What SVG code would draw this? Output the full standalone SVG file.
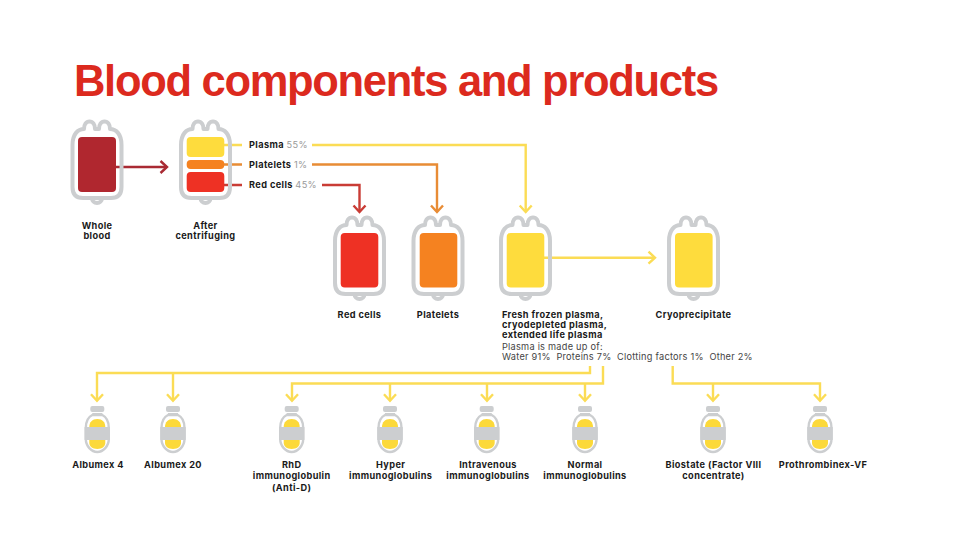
<svg xmlns="http://www.w3.org/2000/svg" xmlns:xlink="http://www.w3.org/1999/xlink" width="960" height="540" viewBox="0 0 960 540">
<style>
.title{font:700 43.5px "Liberation Sans",Arial,sans-serif;fill:#dc2a1e;letter-spacing:-1.3px}
.l{font:700 9.2px Inter,"Open Sans",sans-serif;fill:#1a1a1a;text-anchor:middle;letter-spacing:.38px}
.s{text-anchor:start}
.t{font:400 9.2px Inter,"Open Sans",sans-serif;fill:#444;letter-spacing:.25px}
.g{font:400 9.2px Inter,"Open Sans",sans-serif;fill:#999}
.out{fill:none;stroke:#ccced0;stroke-width:4;stroke-linejoin:round}
.c{fill:none;stroke-width:2.4;stroke-linejoin:miter}
.y{stroke:#fbdc55}.o{stroke:#e88c35}.r{stroke:#c93c35}.d{stroke:#a92a33}
</style>
<defs>
<g id="bag">
<path class="out" d="M-24.500,8C-24.500,-3 -19,-8 -13,-8C-13,-12 -11,-15.500 -7.500,-15.500C-4,-15.500 -2,-12 -2,-8L2,-8C2,-12 4,-15.500 7.500,-15.500C11,-15.500 13,-12 13,-8C19,-8 24.500,-3 24.500,8V50Q24.500,61 14,61H-14Q-24.500,61 -24.500,50Z"/>
<path class="out" d="M-5,61a5,5 0 0 0 10,0"/>
</g>
<g id="vial">
<rect x="-7" y="0" width="14" height="6" rx="2" fill="#ccced0"/>
<rect x="-5" y="7" width="10" height="2" fill="#ccced0"/>
<path d="M-5,9C-9,11 -11.500,15 -11.500,22V33C-11.500,40 -6,46 0,46C6,46 11.500,40 11.500,33V22C11.500,15 9,11 5,9Z" fill="#fff" stroke="#ccced0" stroke-width="2.400"/>
<path d="M-8,21C-8,16 -5,13 0,13C5,13 8,16 8,21V37C8,40 5,43 0,43C-5,43 -8,40 -8,37Z" fill="#fcd93a"/>
<rect x="-12.700" y="21" width="25.400" height="13" fill="#ccced0"/>
</g>
<path id="ad" class="c" d="M-6,-6.500L0,0L6,-6.500"/>
<path id="ar" class="c" d="M-6,-6.500L0,0L6,-6.500" transform="rotate(-90)"/>
</defs>

<text class="title" x="74" y="96">Blood components and products</text>

<g id="connectors">
<path class="c d" d="M116,167H167"/><use href="#ar" class="d" transform="translate(167,167)"/>
<path class="c y" d="M224,145H242M312,145H525.700V212"/><use href="#ad" class="y" transform="translate(525.700,212)"/>
<path class="c o" d="M224,164.500H242M312,164.500H437V212"/><use href="#ad" class="o" transform="translate(437,212)"/>
<path class="c r" d="M224,185H242M322,185H359.500V212"/><use href="#ad" class="r" transform="translate(359.500,212)"/>
<path class="c y" d="M544,257.700H655"/><use href="#ar" class="y" transform="translate(655,257.700)"/>
<path class="c y" d="M590,366V373H97V400"/>
<path class="c y" d="M173,373V400"/>
<path class="c y" d="M603,366V383.500H292V400"/>
<path class="c y" d="M390,383.500V400M487,383.500V400M585,383.500V400"/>
<path class="c y" d="M672.700,366V383.500H820V400"/>
<path class="c y" d="M713,383.500V400"/>
<use href="#ad" class="y" transform="translate(97,400.700)"/>
<use href="#ad" class="y" transform="translate(173,400.700)"/>
<use href="#ad" class="y" transform="translate(292,400.700)"/>
<use href="#ad" class="y" transform="translate(390,400.700)"/>
<use href="#ad" class="y" transform="translate(487,400.700)"/>
<use href="#ad" class="y" transform="translate(585,400.700)"/>
<use href="#ad" class="y" transform="translate(713,400.700)"/>
<use href="#ad" class="y" transform="translate(820,400.700)"/>
</g>

<g id="whole-blood">
<use href="#bag" transform="translate(97,137)"/>
<rect x="78" y="137" width="38" height="55" rx="4" fill="#b0272f"/>
<text class="l" x="97" y="229">Whole</text><text class="l" x="97" y="239">blood</text>
</g>
<g id="after-centrifuging">
<use href="#bag" transform="translate(205.500,137)"/>
<rect x="186.700" y="137" width="37.600" height="20" rx="4" fill="#fedc3d"/>
<rect x="186.700" y="160" width="37.600" height="9" rx="4" fill="#f58220"/>
<rect x="186.700" y="172" width="37.600" height="20" rx="4" fill="#ee3124"/>
<text class="l" x="205.500" y="229">After</text><text class="l" x="205.500" y="239">centrifuging</text>
</g>
<g id="fractions">
<text class="l s" x="249" y="148">Plasma <tspan class="g">55%</tspan></text>
<text class="l s" x="249" y="168">Platelets <tspan class="g">1%</tspan></text>
<text class="l s" x="249" y="188">Red cells <tspan class="g">45%</tspan></text>
</g>
<g id="red-cells">
<use href="#bag" transform="translate(359.500,233)"/>
<rect x="340.700" y="233" width="37.600" height="54.500" rx="4" fill="#ee3124"/>
<text class="l" x="359.500" y="318">Red cells</text>
</g>
<g id="platelets">
<use href="#bag" transform="translate(438,233)"/>
<rect x="419.700" y="233" width="37.600" height="54.500" rx="4" fill="#f58220"/>
<text class="l" x="438" y="318">Platelets</text>
</g>
<g id="plasma">
<use href="#bag" transform="translate(525.500,233)"/>
<rect x="506.700" y="233" width="37.600" height="54.500" rx="4" fill="#fedc3d"/>
<text class="l s" x="502" y="318">Fresh frozen plasma,</text>
<text class="l s" x="502" y="328">cryodepleted plasma,</text>
<text class="l s" x="502" y="338">extended life plasma</text>
<text class="t" x="502" y="350">Plasma is made up of:</text>
<text class="t" x="502" y="360" xml:space="preserve">Water 91%  Proteins 7%  Clotting factors 1%  Other 2%</text>
</g>
<g id="cryoprecipitate">
<use href="#bag" transform="translate(693.500,233)"/>
<rect x="675" y="233" width="37.600" height="54.500" rx="4" fill="#fedc3d"/>
<text class="l" x="693.500" y="318">Cryoprecipitate</text>
</g>

<g id="albumex-4"><use href="#vial" transform="translate(97.300,406)"/><text class="l" x="98" y="468">Albumex 4</text></g>
<g id="albumex-20"><use href="#vial" transform="translate(173,406)"/><text class="l" x="173" y="468">Albumex 20</text></g>
<g id="rhd"><use href="#vial" transform="translate(291.700,406)"/><text class="l" x="291.700" y="468">RhD</text><text class="l" x="291.700" y="478.500">immunoglobulin</text><text class="l" x="291.700" y="490.500">(Anti-D)</text></g>
<g id="hyper"><use href="#vial" transform="translate(390,406)"/><text class="l" x="390.700" y="468">Hyper</text><text class="l" x="390.700" y="478.500">immunoglobulins</text></g>
<g id="intravenous"><use href="#vial" transform="translate(486.700,406)"/><text class="l" x="488" y="468">Intravenous</text><text class="l" x="488" y="478.500">immunoglobulins</text></g>
<g id="normal"><use href="#vial" transform="translate(585,406)"/><text class="l" x="585" y="468">Normal</text><text class="l" x="585" y="478.500">immunoglobulins</text></g>
<g id="biostate"><use href="#vial" transform="translate(713,406)"/><text class="l" x="713.500" y="468">Biostate (Factor VIII</text><text class="l" x="713.500" y="478.500">concentrate)</text></g>
<g id="prothrombinex"><use href="#vial" transform="translate(820,406)"/><text class="l" x="823" y="468">Prothrombinex-VF</text></g>
</svg>
